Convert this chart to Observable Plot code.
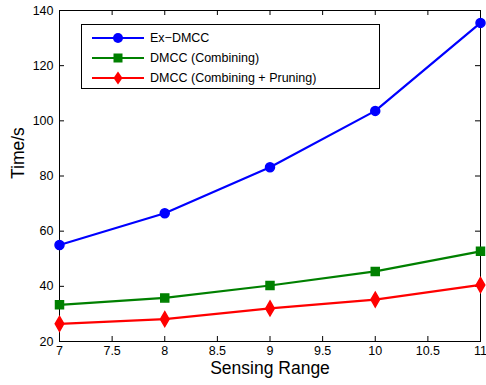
<!DOCTYPE html>
<html><head><meta charset="utf-8">
<script src="https://cdn.jsdelivr.net/npm/d3@7"></script>
<script src="https://cdn.jsdelivr.net/npm/@observablehq/plot@0.6"></script>
<style>
body{margin:0;background:#fff;font-family:"Liberation Sans",Arial,sans-serif;}
#wrap{position:relative;width:486px;height:385px;}
#legend{position:absolute;left:81px;top:24px;width:297px;height:63px;border:1px solid #000;background:#fff;font-size:12.5px;}
.row{position:absolute;left:0;height:20px;display:flex;align-items:center;}
.row svg{margin-left:10px;}
.row span{margin-left:6px;}
</style></head>
<body><div id="wrap"><div id="chart"></div><div id="legend"></div></div>
<script>
const sensingRange = [7, 8, 9, 10, 11];
const seriesNames = ["Ex\u2212DMCC", "DMCC (Combining)", "DMCC (Combining + Pruning)"];
const exDMCC = [55.0, 66.5, 83.2, 103.6, 135.5];
const dmccCombining = [33.3, 35.8, 40.3, 45.4, 52.7];
const dmccPruning = [26.4, 28.1, 32.0, 35.2, 40.5];
const colors = ["#0000ff", "#008000", "#ff0000"];
const symbols = ["circle", "square", "diamond"];
const xTicks = [7, 7.5, 8, 8.5, 9, 9.5, 10, 10.5, 11];
const yTicks = [20, 40, 60, 80, 100, 120, 140];

const allSeries = [exDMCC, dmccCombining, dmccPruning];
const data = allSeries.flatMap((vals, i) => vals.map((v, j) => ({x: sensingRange[j], y: v, s: seriesNames[i]})));

const W = 486, H = 385, mt = 10, mb = 44, ml = 59, mr = 6;
const ph = H - mt - mb, pw = W - ml - mr;
const tl = 5;
const font = "Liberation Sans, Arial, sans-serif";

const plot = Plot.plot({
  width: W, height: H,
  marginTop: mt, marginBottom: mb, marginLeft: ml, marginRight: mr,
  style: {fontFamily: font, fontSize: "12px", color: "#000", background: "#fff"},
  x: {domain: [7, 11], ticks: xTicks},
  y: {domain: [20, 140], ticks: yTicks},
  color: {domain: seriesNames, range: colors},
  symbol: {domain: seriesNames, range: symbols},
  marks: [
    Plot.frame({stroke: "#000", strokeWidth: 1}),
    Plot.tickX(xTicks, {x: d => d, insetTop: ph - tl, stroke: "#000"}),
    Plot.tickX(xTicks, {x: d => d, insetBottom: ph - tl, stroke: "#000"}),
    Plot.tickY(yTicks, {y: d => d, insetRight: pw - tl, stroke: "#000"}),
    Plot.tickY(yTicks, {y: d => d, insetLeft: pw - tl, stroke: "#000"}),
    Plot.axisX(xTicks, {tickSize: 0, tickPadding: 5, fontSize: 12.5, label: null, tickFormat: d => String(d)}),
    Plot.axisY(yTicks, {tickSize: 0, tickPadding: 6, fontSize: 12.5, label: null, tickFormat: d => String(d)}),
    Plot.text(["Sensing Range"], {frameAnchor: "bottom", dy: 32, fontSize: 17.5}),
    Plot.text(["Time/s"], {frameAnchor: "left", dx: -41, dy: 3, rotate: -90, fontSize: 17.5}),
    Plot.line(data, {x: "x", y: "y", z: "s", stroke: "s", strokeWidth: 2.2}),
    Plot.dot(data, {x: "x", y: "y", symbol: "s", fill: "s", stroke: "s", r: 4.5})
  ]
});
document.getElementById("chart").appendChild(plot);

const legend = document.getElementById("legend");
const symPaths = {
  circle: '<circle cx="26" cy="10" r="5"/>',
  square: '<rect x="21.5" y="5.5" width="9" height="9"/>',
  diamond: '<polygon points="26,3.5 30.5,10 26,16.5 21.5,10"/>'
};
seriesNames.forEach((name, i) => {
  const row = document.createElement("div");
  row.className = "row";
  row.style.top = (3 + i * 20) + "px";
  row.innerHTML = `<svg width="52" height="20"><line x1="0" x2="52" y1="10" y2="10" stroke="${colors[i]}" stroke-width="2.2"/><g fill="${colors[i]}">${symPaths[symbols[i]]}</g></svg><span>${name}</span>`;
  legend.appendChild(row);
});
</script></body></html>
